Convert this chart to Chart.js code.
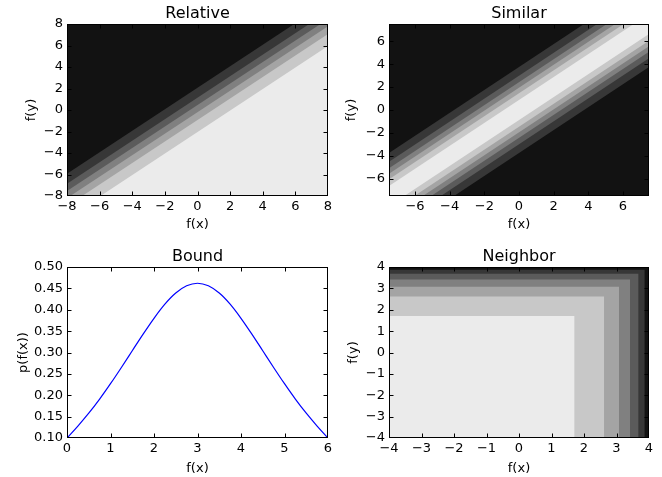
<!DOCTYPE html>
<html>
<head>
<meta charset="utf-8">
<script src="https://cdn.jsdelivr.net/npm/chart.js@4.4.1/dist/chart.umd.min.js"></script>
<style>
  html, body { margin: 0; padding: 0; background: #fff; }
  #wrap { position: relative; width: 662px; height: 477px; }
  #wrap canvas { position: absolute; left: 0; top: 0; }
</style>
</head>
<body>
<div id="wrap">
  <canvas id="relative" width="662" height="477"></canvas>
  <canvas id="similar" width="662" height="477"></canvas>
  <canvas id="bound" width="662" height="477"></canvas>
  <canvas id="neighbor" width="662" height="477"></canvas>
</div>
<script>
// Relative: band edges as offsets of f(y) above f(x), top band first
const relTicks = [-8, -6, -4, -2, 0, 2, 4, 6, 8];
const relCuts = [2.07, 1.15, 0.46, -0.2, -0.93, -2.05];
const relLevels = [0, 1, 2, 3, 4, 5, 6];

// Similar: same idea, stripes run dark -> light -> dark
const simTicks = [-6, -4, -2, 0, 2, 4, 6];
const simCuts = [3.75, 2.99, 2.43, 1.95, 1.46, 0.88,
                 -0.88, -1.46, -1.95, -2.43, -2.99, -3.75];
const simLevels = [0, 1, 2, 3, 4, 5, 6, 5, 4, 3, 2, 1, 0];

// Bound curve
const boundX = [0, 0.25, 0.5, 0.75, 1, 1.25, 1.5, 1.75, 2, 2.25, 2.5, 2.75, 3,
                3.25, 3.5, 3.75, 4, 4.25, 4.5, 4.75, 5, 5.25, 5.5, 5.75, 6];
const boundY = [0.100, 0.128, 0.158, 0.191, 0.227, 0.265, 0.304, 0.343, 0.380, 0.413, 0.439, 0.456, 0.462,
                0.456, 0.439, 0.413, 0.380, 0.343, 0.304, 0.265, 0.227, 0.191, 0.158, 0.128, 0.100];
const boundXTicks = [0, 1, 2, 3, 4, 5, 6];
const boundYTicks = [0.10, 0.15, 0.20, 0.25, 0.30, 0.35, 0.40, 0.45, 0.50];

// Neighbor: corner edges, innermost first
const nbrTicks = [-4, -3, -2, -1, 0, 1, 2, 3, 4];
const nbrCuts = [1.71, 2.62, 3.08, 3.42, 3.68, 3.87, 4];
const nbrLevels = [6, 5, 4, 3, 2, 1, 0];

// dark -> light
const grays = ['#121212', '#373737', '#5b5b5b', '#808080', '#a4a4a4', '#c8c8c8', '#ebebeb'];

Chart.defaults.font.family = "'DejaVu Sans', sans-serif";
Chart.defaults.color = '#000';

const minus = v => String(v).replace('-', '\u2212');

// each edge line is filled down to the bottom; lower edges paint over upper ones
function diagonalBands(cuts, colors, lo, hi) {
  const offsets = [2 * (hi - lo)].concat(cuts);
  return offsets.map((c, i) => ({
    data: [{x: lo, y: lo + c}, {x: hi, y: hi + c}],
    backgroundColor: colors[i],
    borderColor: 'rgba(0,0,0,0)',
    borderWidth: 0,
    pointRadius: 0,
    fill: 'start'
  })).reverse();
}

function cornerBands(cuts, colors, lo) {
  return cuts.map((c, i) => ({
    data: [{x: lo, y: c}, {x: c, y: c}],
    backgroundColor: colors[i],
    borderColor: 'rgba(0,0,0,0)',
    borderWidth: 0,
    pointRadius: 0,
    fill: 'start'
  }));
}

const framePlugin = {
  id: 'frame',
  afterDatasetsDraw(chart) {
    const {ctx, chartArea: a, scales: {x, y}} = chart;
    const l = Math.round(a.left) + 0.5, r = Math.round(a.right) - 0.5;
    const t = Math.round(a.top) + 0.5, b = Math.round(a.bottom) - 0.5;
    const clamp = (v, lo, hi) => Math.min(Math.max(v, lo), hi);
    ctx.save();
    ctx.strokeStyle = '#000';
    ctx.lineWidth = 1;
    ctx.beginPath();
    x.ticks.forEach(tk => {
      const px = clamp(Math.round(x.getPixelForValue(tk.value)) + 0.5, l, r);
      ctx.moveTo(px, b); ctx.lineTo(px, b - 4);
      ctx.moveTo(px, t); ctx.lineTo(px, t + 4);
    });
    y.ticks.forEach(tk => {
      const py = clamp(Math.round(y.getPixelForValue(tk.value)) + 0.5, t, b);
      ctx.moveTo(l, py); ctx.lineTo(l + 4, py);
      ctx.moveTo(r, py); ctx.lineTo(r - 4, py);
    });
    ctx.stroke();
    ctx.strokeRect(l, t, r - l, b - t);
    ctx.restore();
  }
};

function makeChart(id, o) {
  return new Chart(document.getElementById(id), {
    type: 'line',
    data: {datasets: o.datasets},
    options: {
      responsive: false,
      animation: false,
      events: [],
      layout: {padding: o.padding},
      plugins: {
        legend: {display: false},
        tooltip: {enabled: false},
        title: {
          display: true, text: o.title, fullSize: false, color: '#000',
          font: {size: 16, weight: 'normal'}, padding: {top: 0, bottom: 1}
        }
      },
      scales: {
        x: {
          type: 'linear', min: o.xMin, max: o.xMax,
          grid: {display: false, drawTicks: false}, border: {display: false},
          ticks: {autoSkip: false, maxRotation: 0, padding: 3, font: {size: 13}, callback: o.xFmt},
          afterBuildTicks: s => { s.ticks = o.xTicks.map(v => ({value: v})); },
          afterFit: s => { s.height = o.xh; },
          title: {display: true, text: 'f(x)', font: {size: 13}, padding: {top: 0, bottom: o.xtPad}}
        },
        y: {
          type: 'linear', min: o.yMin, max: o.yMax,
          grid: {display: false, drawTicks: false}, border: {display: false},
          ticks: {autoSkip: false, padding: 4, font: {size: 13}, callback: o.yFmt},
          afterBuildTicks: s => { s.ticks = o.yTicks.map(v => ({value: v})); },
          afterFit: s => { s.width = o.yw; },
          title: {display: true, text: o.yLabel, font: {size: 13}, padding: {top: o.ytPad, bottom: 0}}
        }
      }
    },
    plugins: [framePlugin]
  });
}

document.addEventListener("DOMContentLoaded", function() {
  makeChart('relative', {
    title: 'Relative', yLabel: 'f(y)',
    datasets: diagonalBands(relCuts, relLevels.map(i => grays[i]), -8, 8),
    xMin: -8, xMax: 8, yMin: -8, yMax: 8,
    xTicks: relTicks, yTicks: relTicks, xFmt: minus, yFmt: minus,
    padding: {left: 17, right: 334, top: 3.8, bottom: 245},
    yw: 50, xh: 36, ytPad: 7.2, xtPad: 0
  });

  makeChart('similar', {
    title: 'Similar', yLabel: 'f(y)',
    datasets: diagonalBands(simCuts, simLevels.map(i => grays[i]), -7.5, 7.5),
    xMin: -7.5, xMax: 7.5, yMin: -7.5, yMax: 7.5,
    xTicks: simTicks, yTicks: simTicks, xFmt: minus, yFmt: minus,
    padding: {left: 339, right: 13, top: 3.8, bottom: 245},
    yw: 50, xh: 36, ytPad: 4.9, xtPad: 0
  });

  makeChart('bound', {
    title: 'Bound', yLabel: 'p(f(x))',
    datasets: [{
      data: boundX.map((x, i) => ({x: x, y: boundY[i]})),
      borderColor: '#0000ff',
      borderWidth: 1.2,
      pointRadius: 0,
      fill: false,
      cubicInterpolationMode: 'monotone'
    }],
    xMin: 0, xMax: 6, yMin: 0.10, yMax: 0.50,
    xTicks: boundXTicks, yTicks: boundYTicks,
    xFmt: v => String(v), yFmt: v => v.toFixed(2),
    padding: {left: 11, right: 334, top: 246.8, bottom: 1},
    yw: 56, xh: 38, ytPad: 4.5, xtPad: 0
  });

  makeChart('neighbor', {
    title: 'Neighbor', yLabel: 'f(y)',
    datasets: cornerBands(nbrCuts, nbrLevels.map(i => grays[i]), -4),
    xMin: -4, xMax: 4, yMin: -4, yMax: 4,
    xTicks: nbrTicks, yTicks: nbrTicks, xFmt: minus, yFmt: minus,
    padding: {left: 339, right: 13, top: 246.8, bottom: 1},
    yw: 50, xh: 38, ytPad: 7.2, xtPad: 0
  });
});
</script>
</body>
</html>
